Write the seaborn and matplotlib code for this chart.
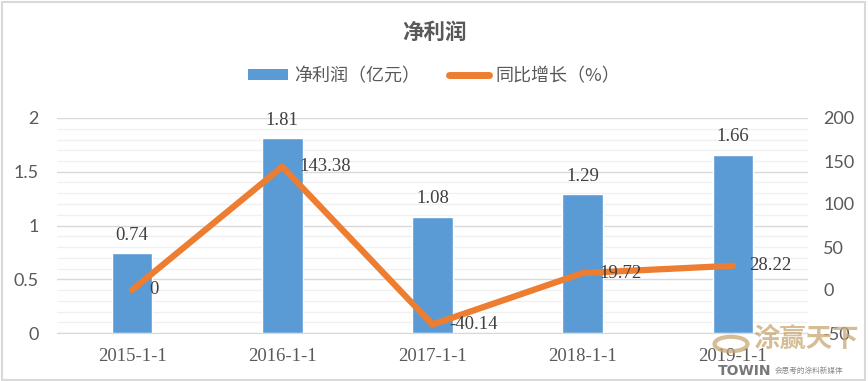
import numpy as np
import pandas as pd
import matplotlib.pyplot as plt
import seaborn as sns
from matplotlib.lines import Line2D
from matplotlib.patches import Patch, Rectangle, Circle

# data
dates = ['2015-1-1', '2016-1-1', '2017-1-1', '2018-1-1', '2019-1-1']
profit = [0.74, 1.81, 1.08, 1.29, 1.66]          # 净利润（亿元）
growth = [0, 143.38, -40.14, 19.72, 28.22]       # 同比增长（%）

left_ticks = [0, 0.5, 1, 1.5, 2]
right_ticks = [-50, 0, 50, 100, 150, 200]

BLUE = '#5B9BD5'
ORANGE = '#ED7D31'
GREY = '#595959'
GRID = '#D9D9D9'

sns.set_style('white')
plt.rcParams['font.family'] = ['Noto Sans CJK SC', 'DejaVu Sans']

df = pd.DataFrame({'date': dates, 'profit': profit, 'growth': growth,
                   'pos': np.arange(len(dates))})

fig = plt.figure(figsize=(8.68, 3.81), dpi=100)
ax = fig.add_axes([57 / 868, 48 / 381, 751 / 868, 215 / 381])

sns.barplot(df, x='date', y='profit', color=BLUE, saturation=1, width=0.27, ax=ax)
ax.bar_label(ax.containers[0], labels=[f'{v:g}' for v in profit], padding=7,
             fontsize=13.5, color='#404040', family='Liberation Serif')

ax.set_ylim(0, 2)
ax.set_yticks(left_ticks, labels=[f'{v:g}' for v in left_ticks])
ax.set_yticks(np.arange(0, 2.01, 0.1), minor=True)
ax.grid(which='major', axis='y', color=GRID, lw=1)
ax.grid(which='minor', axis='y', color='#F0F0F0', lw=1)
ax.set_axisbelow(True)
ax.set_xlim(-0.5, len(dates) - 0.5)
ax.set_xticks(np.arange(-0.5, len(dates), 1), minor=True)
ax.tick_params(axis='x', which='major', length=0, pad=11, labelsize=13.5, labelcolor=GREY)
ax.tick_params(axis='x', which='minor', length=5, color=GRID, width=1)
ax.tick_params(axis='y', which='both', length=0, pad=13, labelsize=13, labelcolor=GREY)
for t in ax.get_xticklabels():
    t.set_family('Liberation Serif')
for t in ax.get_yticklabels():
    t.set_family('Lato')
ax.set_xlabel('')
ax.set_ylabel('')
for s in ['left', 'right', 'top']:
    ax.spines[s].set_visible(False)
ax.spines['bottom'].set_color(GRID)

ax2 = ax.twinx()
sns.lineplot(df, x='pos', y='growth', color=ORANGE, lw=4.5, ax=ax2,
             solid_capstyle='round')
for x, y in zip(df['pos'], growth):
    ax2.annotate(f'{y:g}', (x, y), xytext=(12, 0), textcoords='offset points',
                 ha='left', va='center', fontsize=13.5, color='#404040',
                 family='Liberation Serif')
ax2.set_ylim(-50, 200)
ax2.set_yticks(right_ticks, labels=[f'{v:g}' for v in right_ticks])
ax2.tick_params(axis='y', length=0, pad=11, labelsize=13, labelcolor=GREY)
for t in ax2.get_yticklabels():
    t.set_family('Lato')
ax2.set_ylabel('')
ax2.set_xlabel('')
ax2.set_xlim(-0.5, len(dates) - 0.5)
for s in ax2.spines.values():
    s.set_visible(False)

fig.suptitle('净利润', x=0.5, y=1 - 32 / 381, va='center', fontsize=15.5,
             fontweight='bold', color=GREY)

handles = [Patch(facecolor=BLUE, edgecolor='none'),
           Line2D([], [], color=ORANGE, lw=5, solid_capstyle='round')]
fig.legend(handles, ['净利润（亿元）', '同比增长（%）'], loc='center',
           bbox_to_anchor=(0.5, 1 - 76 / 381), ncol=2, frameon=False,
           fontsize=13, labelcolor=GREY, handlelength=2.2, handleheight=0.6,
           handletextpad=0.35, columnspacing=1.6)

# watermark in the lower right corner
fig.add_artist(Circle((731 / 868, 1 - 344 / 381), 0.019, transform=fig.transFigure,
                      fill=False, ec='#C9A772', lw=3, alpha=0.75))
fig.text(753 / 868, 1 - 339 / 381, '涂赢天下', fontsize=19, fontweight='bold',
         color='#C9A772', alpha=0.75, va='center', ha='left')
fig.text(718 / 868, 1 - 371 / 381, 'TOWIN', fontsize=10, fontweight='bold',
         color='#777777', va='center', ha='left', family='DejaVu Sans')
fig.text(775 / 868, 1 - 371 / 381, '会思考的涂料新媒体', fontsize=5.5,
         color='#888888', va='center', ha='left')

fig.add_artist(Rectangle((0.002, 0.003), 0.995, 0.993, transform=fig.transFigure,
                         fill=False, ec=GRID, lw=1.5))

fig.savefig('out.png', dpi=100)
plt.close()
